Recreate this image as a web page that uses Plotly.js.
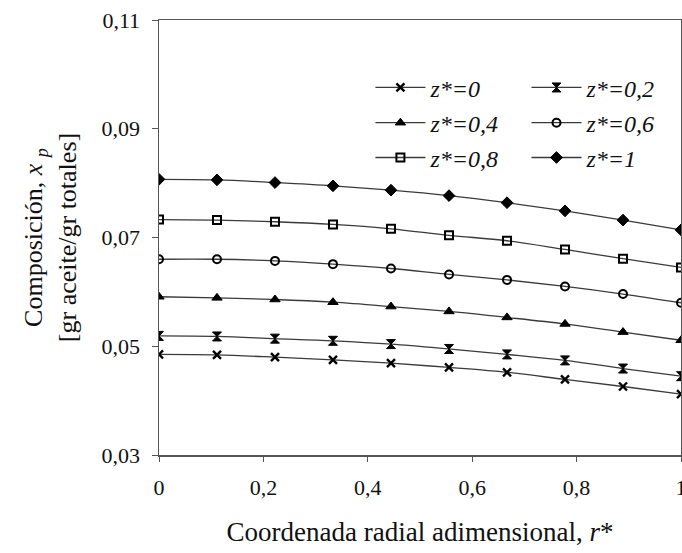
<!DOCTYPE html>
<html>
<head>
<meta charset="utf-8">
<script src="https://cdn.plot.ly/plotly-3.0.1.min.js"></script>
<style>html,body{margin:0;padding:0;background:#fff;}#chart{width:682px;height:553px;}</style>
</head>
<body>
<div id="chart"></div>
<script>
// radial coordinate r*
var rStar = [0, 0.1111, 0.2222, 0.3333, 0.4444, 0.5556, 0.6667, 0.7778, 0.8889, 1];
// composition x_p for each z*
var z0  = [0.0485, 0.0484, 0.0480, 0.0475, 0.0469, 0.0461, 0.0452, 0.0439, 0.0426, 0.0412];
var z02 = [0.0519, 0.0518, 0.0514, 0.0510, 0.0504, 0.0495, 0.0485, 0.0474, 0.0459, 0.0445];
var z04 = [0.0591, 0.0589, 0.0586, 0.0581, 0.0573, 0.0564, 0.0553, 0.0541, 0.0526, 0.0511];
var z06 = [0.0660, 0.0660, 0.0657, 0.0651, 0.0643, 0.0632, 0.0622, 0.0610, 0.0596, 0.0580];
var z08 = [0.0733, 0.0732, 0.0729, 0.0724, 0.0716, 0.0704, 0.0694, 0.0678, 0.0661, 0.0645];
var z1  = [0.0807, 0.0806, 0.0801, 0.0795, 0.0787, 0.0777, 0.0764, 0.0749, 0.0732, 0.0714];
var seriesNames = ['z*=0', 'z*=0,2', 'z*=0,4', 'z*=0,6', 'z*=0,8', 'z*=1'];
var yTicks = [0.03, 0.05, 0.07, 0.09, 0.11];
var xTicks = [0, 0.2, 0.4, 0.6, 0.8, 1];

var serif = 'Liberation Serif, Times New Roman, serif';
var lineCol = '#3a3a3a';
var data = [z0, z02, z04, z06, z08, z1];
var symbols = ['x-thin-open', 'hourglass', 'triangle-up', 'circle-open', 'square-open', 'diamond'];
var sizes = [8, 9, 9, 8, 8, 9];
var mlw = [2.4, 1, 1, 2, 2, 1];
var legendIds = ['legend', 'legend2', 'legend3', 'legend4', 'legend5', 'legend6'];

var traces = data.map(function (ys, i) {
  return {
    x: rStar, y: ys, type: 'scatter', mode: 'lines+markers',
    name: '<i>' + seriesNames[i] + '</i>',
    legend: legendIds[i],
    line: {color: lineCol, width: 1.3, shape: 'spline'},
    marker: {symbol: symbols[i], size: sizes[i], color: '#000', line: {color: '#000', width: mlw[i]}}
  };
});

var colX = [0.405, 0.704];
var rowY = [0.844, 0.763, 0.683];
var legFont = {family: serif, size: 24, color: '#111'};
var layout = {
  width: 682, height: 553,
  margin: {l: 159, r: 1, t: 20, b: 98},
  paper_bgcolor: '#fff', plot_bgcolor: '#fff',
  separators: ',.',
  showlegend: true,
  xaxis: {
    range: [0, 1], tickvals: xTicks, ticks: 'outside', ticklen: 5, tickcolor: '#555',
    ticklabeloverflow: 'allow', ticklabelstandoff: 7,
    showgrid: false, zeroline: false, showline: true, linecolor: '#555', linewidth: 1.5, mirror: true,
    tickfont: {family: serif, size: 22, color: '#111'},
    title: {text: 'Coordenada radial adimensional, <i>r</i>*', font: {family: serif, size: 27, color: '#111'}, standoff: 23},
    automargin: false
  },
  yaxis: {
    range: [0.03, 0.11], tickvals: yTicks, tickformat: '.2f', ticks: 'outside', ticklen: 6, tickcolor: '#555',
    ticklabelstandoff: 7,
    showgrid: false, zeroline: false, showline: true, linecolor: '#555', linewidth: 1.5, mirror: true,
    tickfont: {family: serif, size: 22, color: '#111'},
    title: {text: 'Composición, <i>x</i> <sub><i>p</i></sub><br>[gr aceite/gr totales]', font: {family: serif, size: 26, color: '#111'}, standoff: 17},
    automargin: false
  }
};
for (var i = 0; i < 6; i++) {
  layout[legendIds[i]] = {
    x: colX[i % 2], y: rowY[Math.floor(i / 2)], xanchor: 'left', yanchor: 'middle',
    bgcolor: 'rgba(0,0,0,0)', borderwidth: 0, font: legFont, itemwidth: 50
  };
}
Plotly.newPlot('chart', traces, layout, {staticPlot: true});
</script>
</body>
</html>
